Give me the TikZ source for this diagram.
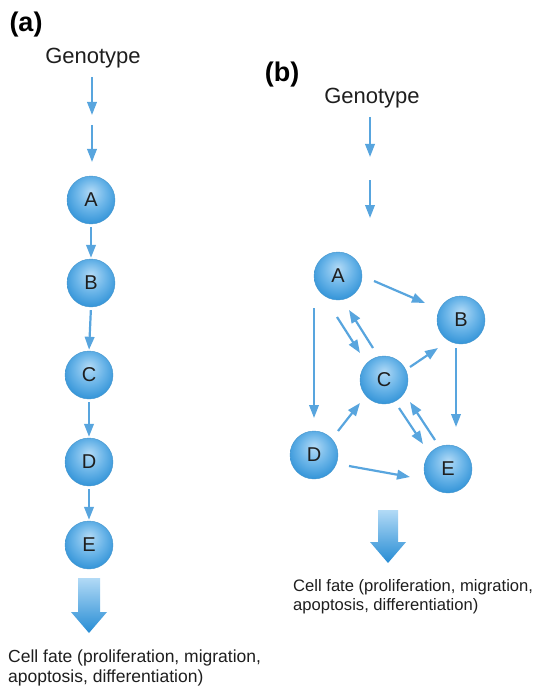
\documentclass[tikz,border=0pt]{standalone}
\usepackage{fontspec}
\setmainfont{Liberation Sans}
\usetikzlibrary{arrows.meta,calc}
\definecolor{arrowblue}{RGB}{88,165,222}
\definecolor{ballin}{RGB}{178,218,246}
\definecolor{ballmid}{RGB}{105,180,232}
\definecolor{ballout}{RGB}{38,140,212}
\definecolor{ballrim}{RGB}{70,150,205}
\definecolor{txt}{RGB}{30,30,30}
\pgfdeclareradialshading{genesh}{\pgfpoint{0bp}{9bp}}{color(0bp)=(ballin); color(16bp)=(ballmid); color(32bp)=(ballout); color(50bp)=(ballout)}
\begin{document}
\begin{tikzpicture}[x=1pt,y=-1pt,
 gene/.style={circle,minimum size=48pt,inner sep=0pt,shading=genesh,draw=ballrim,line width=0.4pt,font=\fontsize{20}{20}\selectfont,text=txt},
 arr/.style={draw=arrowblue,line width=2.2pt,-{Triangle[length=13pt,width=9.5pt]}},
 lbl/.style={font=\fontsize{22}{22}\selectfont,text=txt},
 panel/.style={font=\bfseries\fontsize{27}{27}\selectfont,text=black},
 fatea/.style={font=\fontsize{17.5}{20}\selectfont,text=txt,align=left,anchor=north west,inner sep=0pt},
 fateb/.style={font=\fontsize{16.6}{19}\selectfont,text=txt,align=left,anchor=north west,inner sep=0pt},
 bigarrow/.style={top color=ballin,bottom color=ballout,draw=none}]
\useasboundingbox (0,0) rectangle (536,687);

% ---------- panel (a)
\node[panel] (pa) at (26,25) {(a)};
\node[lbl] (ga) at (93,58) {Genotype};
\coordinate (a1s) at (92,77);  \coordinate (a1e) at (92,115);
\coordinate (a2s) at (92,125); \coordinate (a2e) at (92,162);
\draw[arr] (a1s) -- (a1e);
\draw[arr] (a2s) -- (a2e);
\node[gene] (aA) at (91,200) {A};
\node[gene] (aB) at (91,283) {B};
\node[gene] (aC) at (89,375) {C};
\node[gene] (aD) at (89,462) {D};
\node[gene] (aE) at (89,545) {E};
\draw[arr,shorten <=3pt,shorten >=1pt] (aA.south) -- (aB.north);
\draw[arr,shorten <=3pt,shorten >=1pt] (aB.south) -- (aC.north);
\draw[arr,shorten <=3pt,shorten >=1pt] (aC.south) -- (aD.north);
\draw[arr,shorten <=3pt,shorten >=1pt] (aD.south) -- (aE.north);
\shade[bigarrow] (78,578) -- (100,578) -- (100,612) -- (107,612) -- (89,633) -- (71,612) -- (78,612) -- cycle;
\node[fatea] (fa) at (8,650) {Cell fate (proliferation, migration,\\apoptosis, differentiation)};

% ---------- panel (b)
\node[panel] (pb) at (282,75) {(b)};
\node[lbl] (gb) at (372,98) {Genotype};
\coordinate (b1s) at (370,117); \coordinate (b1e) at (370,157);
\coordinate (b2s) at (370,180); \coordinate (b2e) at (370,218);
\draw[arr] (b1s) -- (b1e);
\draw[arr] (b2s) -- (b2e);
\node[gene] (A) at (338,276) {A};
\node[gene] (B) at (461,320) {B};
\node[gene] (C) at (384,380) {C};
\node[gene] (D) at (314,455) {D};
\node[gene] (E) at (448,469) {E};
\draw[arr] ($(A)+(36,5)$) -- ($(B)+(-36,-17)$);
\draw[arr] ($(A)+(-24,32)$) -- ($(D)+(0,-37)$);
\draw[arr] ($(A)+(-1,41)$) -- ($(C)+(-24,-27)$);
\draw[arr] ($(C)+(-11,-32)$) -- ($(A)+(11,34)$);
\draw[arr] ($(C)+(26,-13)$) -- ($(B)+(-23,28)$);
\draw[arr] ($(B)+(-5,28)$) -- ($(E)+(8,-42)$);
\draw[arr] ($(D)+(24,-24)$) -- ($(C)+(-24,23)$);
\draw[arr] ($(C)+(15,28)$) -- ($(E)+(-25,-25)$);
\draw[arr] ($(E)+(-13,-29)$) -- ($(C)+(26,22)$);
\draw[arr] ($(D)+(35,11)$) -- ($(E)+(-38,8)$);
\shade[bigarrow] (378,510) -- (398,510) -- (398,542) -- (406,542) -- (388,563) -- (370,542) -- (378,542) -- cycle;
\node[fateb] (fb) at (293,579) {Cell fate (proliferation, migration,\\apoptosis, differentiation)};
\end{tikzpicture}
\end{document}
